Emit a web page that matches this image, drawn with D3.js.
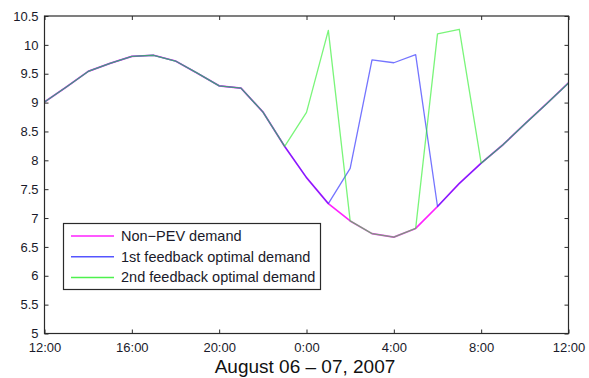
<!DOCTYPE html>
<html>
<head>
<meta charset="utf-8">
<script src="https://cdn.jsdelivr.net/npm/d3@7"></script>
<style>
  html, body { margin: 0; padding: 0; background: #fff; }
  svg { display: block; font-family: "Liberation Sans", Arial, sans-serif; }
</style>
</head>
<body>
<svg id="chart" width="589" height="378"></svg>
<script>
const hours = d3.range(0, 25);
const nonPEV = [9.01, 9.27, 9.54, 9.68, 9.80, 9.82, 9.72, 9.51, 9.29, 9.25, 8.84, 8.24,
                7.70, 7.25, 6.95, 6.73, 6.67, 6.82, 7.20, 7.60, 7.95, 8.27, 8.63, 8.98, 9.34];
const feedback1 = [9.01, 9.27, 9.54, 9.68, 9.80, 9.82, 9.72, 9.51, 9.29, 9.25, 8.84, 8.24,
                7.70, 7.25, 7.86, 9.74, 9.69, 9.83, 7.20, 7.60, 7.95, 8.27, 8.63, 8.98, 9.34];
const feedback2 = [9.01, 9.27, 9.54, 9.68, 9.80, 9.82, 9.72, 9.51, 9.29, 9.25, 8.84, 8.24,
                8.83, 10.25, 6.95, 6.73, 6.67, 6.82, 10.19, 10.27, 7.95, 8.27, 8.63, 8.98, 9.34];
const seriesNames = ["Non\u2212PEV demand", "1st feedback optimal demand", "2nd feedback optimal demand"];
const xTickValues = [0, 4, 8, 12, 16, 20, 24];
const xTickLabels = ["12:00", "16:00", "20:00", "0:00", "4:00", "8:00", "12:00"];
const yTickValues = [5, 5.5, 6, 6.5, 7, 7.5, 8, 8.5, 9, 9.5, 10, 10.5];
const xTitle = "August 06 \u2013 07, 2007";

const svg = d3.select("#chart");
const m = {left: 44.5, right: 568.5, top: 16, bottom: 333.5};
const x = d3.scaleLinear().domain([0, 24]).range([m.left, m.right]);
const y = d3.scaleLinear().domain([5, 10.5]).range([m.bottom, m.top]);

const axisColor = "#2a2a2a";
const tickLen = 4;

// lines
const series = [
  {vals: nonPEV, color: "#ff22ff", width: 1.7, op: 1},
  {vals: feedback1, color: "#2a2aff", width: 1.3, op: 0.65},
  {vals: feedback2, color: "#22ee22", width: 1.3, op: 0.6}
];
const line = d3.line().x((d, i) => x(hours[i])).y(d => y(d));
series.forEach(s => {
  svg.append("path").datum(s.vals)
    .attr("d", line)
    .attr("fill", "none")
    .attr("stroke", s.color)
    .attr("stroke-width", s.width)
    .attr("stroke-opacity", s.op)
    .attr("stroke-linejoin", "round");
});

// axes
const fmtX = (d) => xTickLabels[xTickValues.indexOf(d)];
const xBottom = d3.axisBottom(x).tickValues(xTickValues).tickFormat(fmtX).tickSizeInner(-tickLen).tickSizeOuter(0).tickPadding(9);
const xTop = d3.axisTop(x).tickValues(xTickValues).tickFormat("").tickSizeInner(-tickLen).tickSizeOuter(0);
const yLeft = d3.axisLeft(y).tickValues(yTickValues).tickFormat(d => d3.format("")(d)).tickSizeInner(-tickLen).tickSizeOuter(0).tickPadding(6);
const yRight = d3.axisRight(y).tickValues(yTickValues).tickFormat("").tickSizeInner(-tickLen).tickSizeOuter(0);

function style(g) {
  g.selectAll("path.domain").remove();
  g.selectAll("line").attr("stroke", axisColor).attr("stroke-width", 1);
  g.selectAll("text").attr("fill", "#1a1a2a").style("font-size", "13px")
    .style("font-family", "'Liberation Sans', Arial, sans-serif");
}
svg.append("g").attr("transform", `translate(0,${m.bottom})`).call(xBottom).call(style);
svg.append("g").attr("transform", `translate(0,${m.top})`).call(xTop).call(style);
svg.append("g").attr("transform", `translate(${m.left},0)`).call(yLeft).call(style);
svg.append("g").attr("transform", `translate(${m.right},0)`).call(yRight).call(style);

svg.append("rect")
  .attr("x", m.left).attr("y", m.top)
  .attr("width", m.right - m.left).attr("height", m.bottom - m.top)
  .attr("fill", "none").attr("stroke", axisColor).attr("stroke-width", 1.2);

// x title
svg.append("text")
  .attr("x", 305).attr("y", 373)
  .attr("text-anchor", "middle")
  .attr("fill", "#111")
  .style("font-size", "19px")
  .text(xTitle);

// legend
const lg = svg.append("g");
lg.append("rect")
  .attr("x", 63.5).attr("y", 223.5).attr("width", 257).attr("height", 66)
  .attr("fill", "#fff").attr("stroke", axisColor).attr("stroke-width", 1.2);
const legendColors = ["#ff22ff", "#2a2aff", "#22ee22"];
seriesNames.forEach((name, i) => {
  const yy = 236 + i * 20.7;
  lg.append("line").attr("x1", 71).attr("x2", 114).attr("y1", yy).attr("y2", yy)
    .attr("stroke", legendColors[i]).attr("stroke-width", 1.5).attr("stroke-opacity", i === 0 ? 1 : 0.8);
  lg.append("text").attr("x", 121).attr("y", yy + 5)
    .attr("fill", "#1a1a2a").style("font-size", "14.5px").text(name);
});
</script>
</body>
</html>
